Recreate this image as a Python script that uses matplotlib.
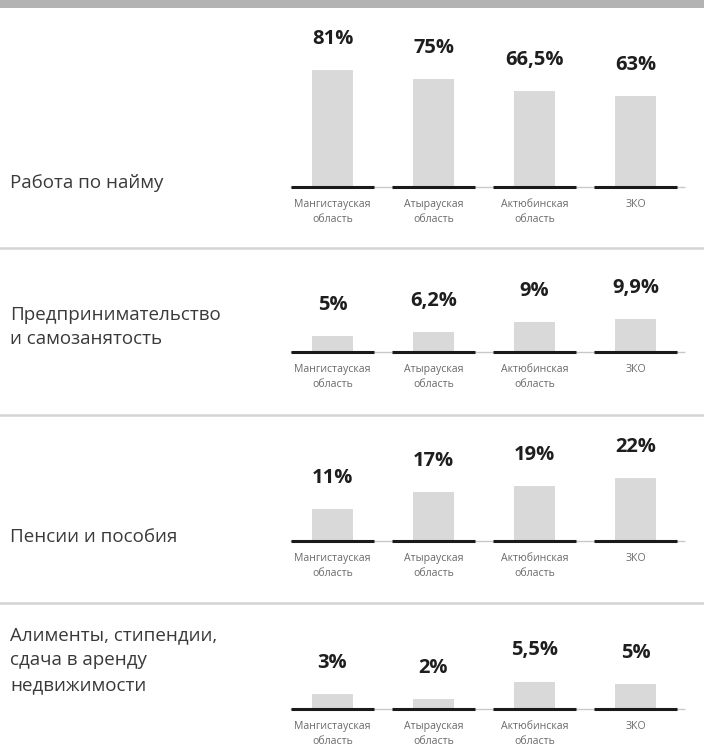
import matplotlib.pyplot as plt
from matplotlib.lines import Line2D
from matplotlib.patches import Rectangle

plt.rcParams['font.family'] = ['Open Sans', 'DejaVu Sans']

regions = ["Мангистауская\nобласть", "Атырауская\nобласть", "Актюбинская\nобласть", "ЗКО"]
titles = ["Работа по найму",
          "Предпринимательство\nи самозанятость",
          "Пенсии и пособия",
          "Алименты, стипендии,\nсдача в аренду\nнедвижимости"]
work = [81, 75, 66.5, 63]
business = [5, 6.2, 9, 9.9]
pensions = [11, 17, 19, 22]
other = [3, 2, 5.5, 5]
value_labels = [["81%", "75%", "66,5%", "63%"],
                ["5%", "6,2%", "9%", "9,9%"],
                ["11%", "17%", "19%", "22%"],
                ["3%", "2%", "5,5%", "5%"]]
series = [work, business, pensions, other]

W, H = 704, 752
fig = plt.figure(figsize=(W/100, H/100), dpi=100)

# per section: baseline y (px from top), px per percent, axes height px, title center y
baselines = [187, 352, 541, 709]
scales = [1.44, 3.3, 2.87, 5.0]
heights = [150, 90, 110, 80]
title_y = [183, 327, 537, 660]

ax_left, ax_right = 280, 690
step = 101
first_center = 332.5
x = list(range(len(regions)))

for i in range(4):
    b = baselines[i]
    h = heights[i]
    ax = fig.add_axes([ax_left/W, (H-b)/H, (ax_right-ax_left)/W, h/H])
    ax.set_xlim(-(first_center-ax_left)/step, (ax_right-first_center)/step)
    ax.set_ylim(0, h/scales[i])
    ax.axis('off')
    ax.bar(x, series[i], width=0.41, color='#d9d9d9', zorder=1)
    ax.hlines(0, (290-first_center)/step, (685-first_center)/step, color='#c8c8c8', lw=1,
              zorder=2, clip_on=False)
    for xi in x:
        ax.hlines(0, xi-0.41, xi+0.41, color='#1a1a1a', lw=2.2, zorder=3, clip_on=False)
    for xi, v, lab in zip(x, series[i], value_labels[i]):
        ax.annotate(lab, (xi, v), xytext=(0, 31), textcoords='offset pixels',
                    ha='center', va='center', fontsize=14.5, fontweight='bold', color='#1e1e1e')
        ax.annotate(regions[xi], (xi, 0), xytext=(0, -12), textcoords='offset pixels',
                    ha='center', va='top', fontsize=7.6, color='#6a6a6a', linespacing=1.5,
                    annotation_clip=False)
    fig.text(10/W, 1-title_y[i]/H, titles[i], ha='left', va='center', fontsize=13.5,
             color='#3a3a3a', linespacing=1.5)

# top band and separators
fig.add_artist(Rectangle((0, 1-8/H), 1, 8/H, transform=fig.transFigure, color='#b3b3b3', lw=0))
for y in [248, 415, 603]:
    fig.add_artist(Line2D([0, 1], [1-y/H, 1-y/H], transform=fig.transFigure, color='#d4d4d4', lw=1.8))

fig.savefig("out.png", dpi=100, facecolor='white')
